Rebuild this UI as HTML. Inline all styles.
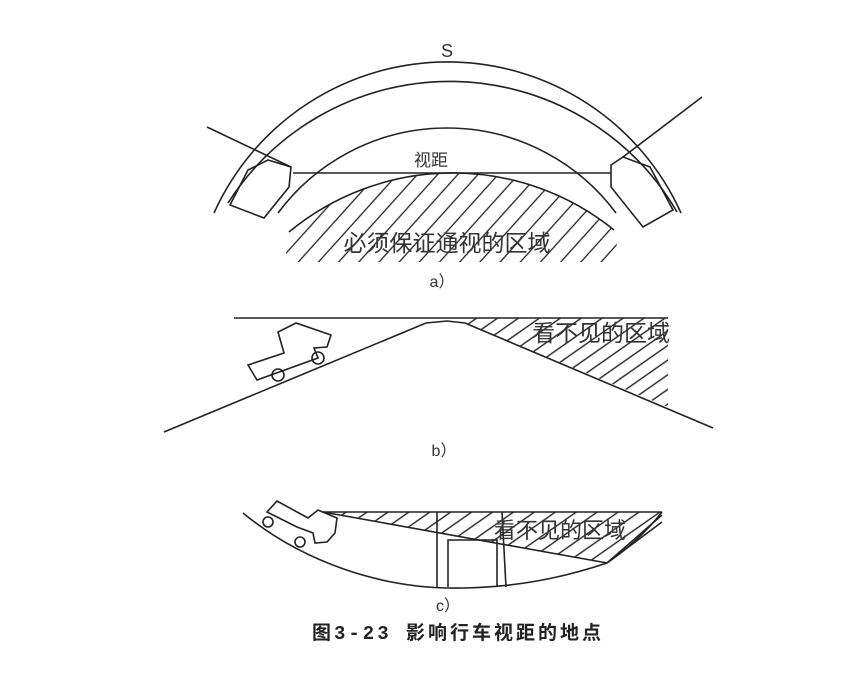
<!DOCTYPE html>
<html><head><meta charset="utf-8"><style>
html,body{margin:0;padding:0;background:#fff;}
svg{display:block;}
text{font-family:"Liberation Sans","Noto Sans CJK SC",sans-serif;fill:#333;}
</style></head><body>
<svg width="853" height="673" viewBox="0 0 853 673" xmlns="http://www.w3.org/2000/svg">
<defs>
<pattern id="h" patternUnits="userSpaceOnUse" width="12" height="12" patternTransform="rotate(-35)">
<line x1="0" y1="6" x2="12" y2="6" stroke="#222" stroke-width="1.4"/>
</pattern>
<pattern id="ha" patternUnits="userSpaceOnUse" width="15" height="15" patternTransform="rotate(-48)">
<line x1="0" y1="7" x2="15" y2="7" stroke="#222" stroke-width="1.3"/>
</pattern>
<clipPath id="ca"><path d="M289,232 A256.6,256.6 0 0 1 614,230 L620,262 L285,262 Z"/></clipPath>
</defs>
<rect width="853" height="673" fill="#fff"/>
<g fill="none" stroke="#222" stroke-width="1.6">
<!-- part a -->
<path d="M214,213 A256,256 0 0 1 681,213"/>
<path d="M228,203 A263,263 0 0 1 677,212"/>
<path d="M278,213 A210.5,210.5 0 0 1 616,213"/>
<path d="M289,232 A256.6,256.6 0 0 1 614,230"/>
<rect x="280" y="170" width="345" height="95" fill="url(#ha)" stroke="none" clip-path="url(#ca)"/>
<line x1="293" y1="173" x2="611" y2="173"/>
<polygon points="230,205 248,170 268,160 291,167 289,187 264,218"/>
<line x1="207" y1="127" x2="291" y2="167"/>
<polygon points="611,165 623,157 650,167 673,210 643,227 611,187"/>
<line x1="702" y1="97" x2="623" y2="157"/>
<!-- part b -->
<line x1="234" y1="318" x2="668" y2="318"/>
<polygon points="462,318 668,318 668,407 465,323" fill="url(#h)" stroke="none"/>
<polyline points="164,432 426,323 447,321 465,323 713,428"/>
<polygon points="248,365 284,353 278,332 296,323 331,335 327,347 314,348 318,358 257,380"/>
<circle cx="278" cy="375" r="6"/>
<circle cx="318" cy="358" r="6"/>
<!-- part c -->
<polygon points="323,512 662,512 607,563" fill="url(#h)" stroke="none"/>
<line x1="323" y1="512" x2="662" y2="512"/>
<line x1="323" y1="512" x2="607" y2="563"/>
<line x1="607" y1="563" x2="662" y2="515"/>
<line x1="607" y1="563" x2="662" y2="522"/>
<path d="M243,513 C300,560 380,590 463,588 C530,587 580,572 607,563 Q640,540 662,512"/>
<line x1="437" y1="512" x2="437" y2="587"/>
<line x1="502" y1="512" x2="506" y2="587"/>
<polyline points="448,587 448,540 497,540 497,587"/>
<polygon points="267,512 277,501 308,518 318,510 337,518 335,533 327,542 315,543 313,533 297,527" fill="#fff"/>
<circle cx="268" cy="522" r="5" fill="#fff"/>
<circle cx="300" cy="542" r="5" fill="#fff"/>
</g>
<text x="447" y="57" font-size="18" text-anchor="middle">S</text>
<text x="431" y="166" font-size="17" text-anchor="middle">视距</text>
<text x="447" y="251" font-size="23" text-anchor="middle">必须保证通视的区域</text>
<text x="442" y="287" font-size="16" text-anchor="middle">a）</text>
<text x="601" y="341" font-size="23" text-anchor="middle">看不见的区域</text>
<text x="444" y="456" font-size="16" text-anchor="middle">b）</text>
<text x="560" y="538" font-size="22" text-anchor="middle">看不见的区域</text>
<text x="448" y="611" font-size="16" text-anchor="middle">c）</text>
<text x="312" y="639" font-size="19" font-weight="bold" letter-spacing="3" style="font-family:'Liberation Mono','Noto Sans CJK SC',monospace;fill:#222">图3-23 影响行车视距的地点</text>
</svg>
</body></html>
